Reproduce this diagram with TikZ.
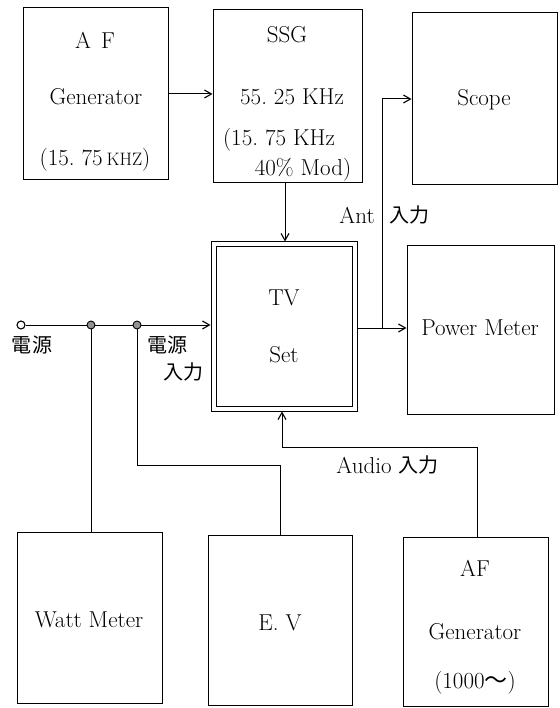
\documentclass[tikz,border=0pt]{standalone}
\usepackage{fontspec}
\newfontfamily\cjk{Noto Sans CJK JP}
\usetikzlibrary{arrows.meta,calc}
\tikzset{
  box/.style={draw, line width=1pt, inner sep=0pt},
  txt/.style={inner sep=0pt, font=\fontsize{23}{26}\selectfont\addfontfeature{LetterSpace=7}},
  jtxt/.style={inner sep=0pt, font=\fontsize{20}{22}\selectfont\cjk},
  wire/.style={line width=1pt},
  arr/.style={line width=1pt, -{Straight Barb[length=7pt,width=8pt,line width=1.1pt]}},
  dotj/.style={circle, draw=black, fill=gray!85, line width=0.9pt, minimum size=8pt, inner sep=0pt},
  opend/.style={circle, draw=black, fill=white, line width=1.1pt, minimum size=8pt, inner sep=0pt}
}
\begin{document}
\begin{tikzpicture}[x=1pt,y=-1pt]
\useasboundingbox (0,0) rectangle (559,708);
% boxes
\node[box, minimum width=145pt, minimum height=172pt] (af) at (95.5,94) {};
\node[box, minimum width=149pt, minimum height=173pt] (ssg) at (287.5,96.5) {};
\node[box, minimum width=145pt, minimum height=172pt] (scope) at (484.5,99) {};
\node[box, minimum width=146pt, minimum height=169pt] (tv) at (284,326.5) {};
\draw[line width=1pt] ($(tv.north west)+(5.5,5)$) rectangle ($(tv.south east)+(-5,-5)$);
\node[box, minimum width=147pt, minimum height=168pt] (pm) at (480.5,330) {};
\node[box, minimum width=145pt, minimum height=171pt] (wm) at (89.5,617.5) {};
\node[box, minimum width=144pt, minimum height=170pt] (ev) at (280,620) {};
\node[box, minimum width=145pt, minimum height=169pt] (af2) at (475.5,621.5) {};
% texts
\node[txt] (aft1) at (95,40) {A\hspace{10pt}F};
\node[txt] (aft2) at (96,97) {Generator};
\node[txt] (aft3) at (95,160) {(15.\ 75\,{\fontsize{18}{20}\selectfont KHZ})};
\node[txt] (ssgt1) at (287,35) {SSG};
\node[txt] (ssgt2) at (292,97) {55.\ 25 KHz};
\node[txt] (ssgt3) at (279,140) {(15.\ 75 KHz};
\node[txt] (ssgt4) at (303,170) {40\% Mod)};
\node[txt] (scopet) at (484,100) {Scope};
\node[txt] (tvt1) at (284,298) {TV};
\node[txt] (tvt2) at (284,355) {Set};
\node[txt] (pmt) at (480,328) {Power Meter};
\node[txt] (wmt) at (89,620) {Watt Meter};
\node[txt] (evt) at (280,623) {E.\ V};
\node[txt] (af2t1) at (475,568) {AF};
\node[txt] (af2t2) at (475,632) {Generator};
\node[txt] (af2t3) at (475,683) {(1000{\cjk 〜})};
% labels
\node[txt] (antl) at (357,215) {Ant};
\node[jtxt] (antj) at (409,215) {入力};
\node[txt] (audl) at (364,465) {Audio};
\node[jtxt] (audj) at (418,465) {入力};
\node[jtxt] (src1) at (32,345) {電源};
\node[jtxt] (pw1) at (167,345) {電源};
\node[jtxt] (pw2) at (183,372) {入力};
% connectors
\draw[arr] (af.east) -- (af.east -| ssg.west);
\draw[arr] (ssg.south -| 285,0) -- (285,0 |- tv.north);
\coordinate (j) at (382,328);
\draw[arr] (j -| tv.east) -- (j -| pm.west);
\draw[arr] (j) |- (scope.west);
% power line
\node[opend] (src) at (21,325) {};
\node[dotj] (d1) at (91,325) {};
\node[dotj] (d2) at (137,325) {};
\draw[wire] (src) -- (d1) -- (d2);
\draw[arr] (d2) -- (d2 -| tv.west);
\draw[wire] (d1) -- (d1 |- wm.north);
\coordinate (k) at (280,465);
\draw[wire] (d2) |- (k) -- (ev.north);
\coordinate (m) at (477,447);
\draw[wire] (m |- af2.north) -- (m);
\draw[arr] (m) -| (282,0 |- tv.south);
\end{tikzpicture}
\end{document}
